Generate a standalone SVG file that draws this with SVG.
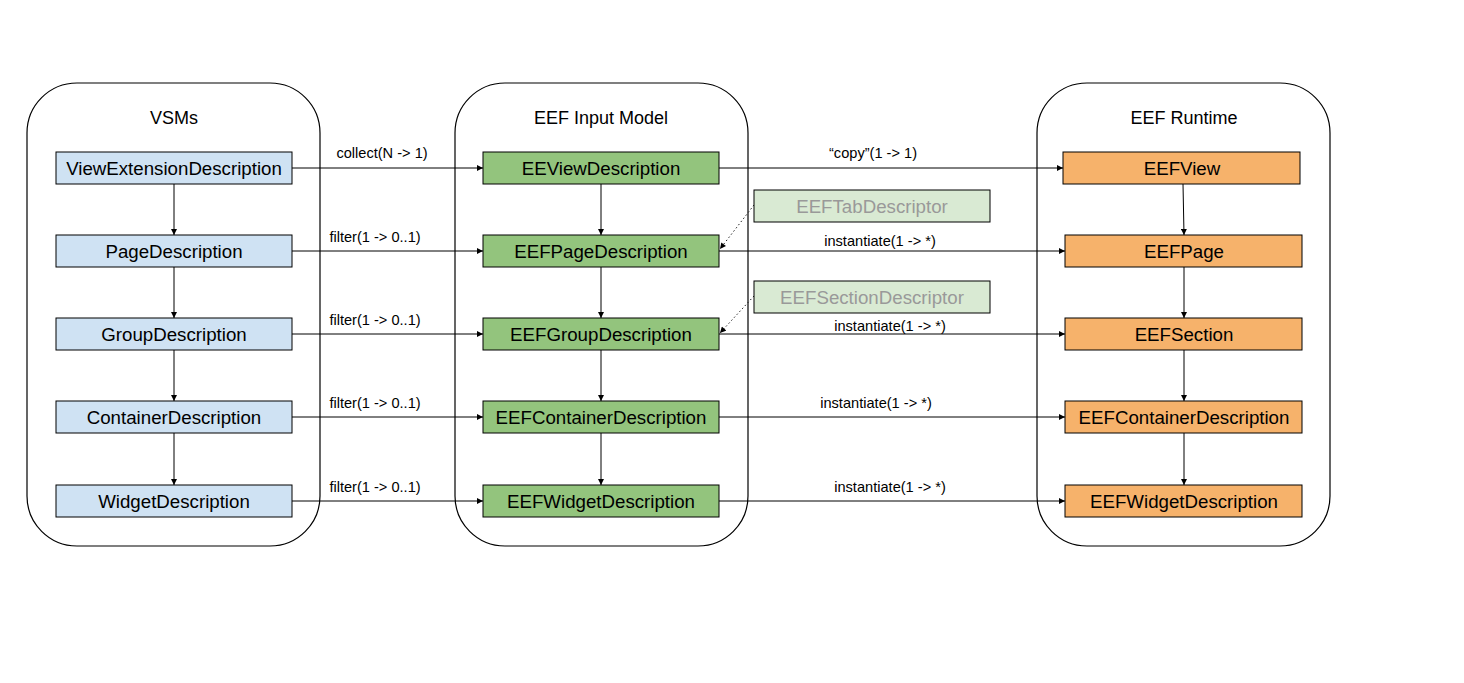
<svg xmlns="http://www.w3.org/2000/svg" width="1464" height="683" viewBox="0 0 1464 683">
<style>
.cont{fill:none;stroke:#000;stroke-width:1.2}
.title{font-family:"Liberation Sans",Arial,sans-serif;font-size:18px;fill:#000;text-anchor:middle}
.node rect{stroke:#000;stroke-width:1}
.node text{font-family:"Liberation Sans",Arial,sans-serif;font-size:18.7px;fill:#000;text-anchor:middle}
.blue rect{fill:#cfe2f3}
.green rect{fill:#93c47d}
.orange rect{fill:#f6b26b}
.desc rect{fill:#d9ead3;stroke:#000}
.desc text{fill:#999999}
.edge{stroke:#000;stroke-width:1;fill:none;marker-end:url(#ah)}
.dot{stroke:#222;stroke-width:1;fill:none;stroke-dasharray:1.5 2.5;marker-end:url(#ah)}
.lbl{font-family:"Liberation Sans",Arial,sans-serif;font-size:14.6px;fill:#000;text-anchor:middle}
</style>
<defs>
<marker id="ah" viewBox="0 0 10 10" refX="10" refY="5" markerWidth="7" markerHeight="6" markerUnits="userSpaceOnUse" orient="auto">
<path d="M0,0 L10,5 L0,10 z" fill="#000"/>
</marker>
</defs>
<rect width="1464" height="683" fill="#fff"/>
<g id="containers">
<g id="vsms"><rect class="cont" x="27" y="83" width="293" height="463" rx="50" ry="50"/><text class="title" x="174" y="124">VSMs</text></g>
<g id="input"><rect class="cont" x="455" y="83" width="293" height="463" rx="50" ry="50"/><text class="title" x="601" y="124">EEF Input Model</text></g>
<g id="runtime"><rect class="cont" x="1037" y="83" width="293" height="463" rx="50" ry="50"/><text class="title" x="1184" y="124">EEF Runtime</text></g>
</g>
<g id="connectors">
<line class="edge" x1="174" y1="184" x2="174" y2="235"/>
<line class="edge" x1="174" y1="267" x2="174" y2="318"/>
<line class="edge" x1="174" y1="350" x2="174" y2="401"/>
<line class="edge" x1="174" y1="433" x2="174" y2="485"/>
<line class="edge" x1="601" y1="184" x2="601" y2="235"/>
<line class="edge" x1="601" y1="267" x2="601" y2="318"/>
<line class="edge" x1="601" y1="350" x2="601" y2="401"/>
<line class="edge" x1="601" y1="433" x2="601" y2="485"/>
<line class="edge" x1="1183" y1="184" x2="1184" y2="235"/>
<line class="edge" x1="1184" y1="267" x2="1184" y2="318"/>
<line class="edge" x1="1184" y1="350" x2="1184" y2="401"/>
<line class="edge" x1="1184" y1="433" x2="1184" y2="485"/>
<line class="edge" x1="292" y1="168" x2="483" y2="168"/>
<line class="edge" x1="292" y1="251" x2="483" y2="251"/>
<line class="edge" x1="292" y1="334" x2="483" y2="334"/>
<line class="edge" x1="292" y1="417" x2="483" y2="417"/>
<line class="edge" x1="292" y1="501" x2="483" y2="501"/>
<line class="edge" x1="719" y1="168" x2="1063" y2="168"/>
<line class="edge" x1="719" y1="251" x2="1065" y2="251"/>
<line class="edge" x1="719" y1="334" x2="1065" y2="334"/>
<line class="edge" x1="719" y1="417" x2="1065" y2="417"/>
<line class="edge" x1="719" y1="501" x2="1065" y2="501"/>
<line class="dot" x1="754" y1="205" x2="720" y2="249"/>
<line class="dot" x1="754" y1="296" x2="720" y2="333"/>
<text class="lbl" x="382" y="158">collect(N -&gt; 1)</text>
<text class="lbl" x="375" y="242">filter(1 -&gt; 0..1)</text>
<text class="lbl" x="375" y="325">filter(1 -&gt; 0..1)</text>
<text class="lbl" x="375" y="408">filter(1 -&gt; 0..1)</text>
<text class="lbl" x="375" y="492">filter(1 -&gt; 0..1)</text>
<text class="lbl" x="873" y="158">“copy”(1 -&gt; 1)</text>
<text class="lbl" x="880" y="246">instantiate(1 -&gt; *)</text>
<text class="lbl" x="890" y="331">instantiate(1 -&gt; *)</text>
<text class="lbl" x="876" y="408">instantiate(1 -&gt; *)</text>
<text class="lbl" x="890" y="492">instantiate(1 -&gt; *)</text>
</g>
<g id="n_vext" class="node blue"><rect x="56" y="152" width="236" height="32"/><text x="174" y="175">ViewExtensionDescription</text></g>
<g id="n_page" class="node blue"><rect x="56" y="235" width="236" height="32"/><text x="174" y="258">PageDescription</text></g>
<g id="n_group" class="node blue"><rect x="56" y="318" width="236" height="32"/><text x="174" y="341">GroupDescription</text></g>
<g id="n_cont" class="node blue"><rect x="56" y="401" width="236" height="32"/><text x="174" y="424">ContainerDescription</text></g>
<g id="n_widget" class="node blue"><rect x="56" y="485" width="236" height="32"/><text x="174" y="508">WidgetDescription</text></g>
<g id="g_view" class="node green"><rect x="483" y="152" width="236" height="32"/><text x="601" y="175">EEViewDescription</text></g>
<g id="g_page" class="node green"><rect x="483" y="235" width="236" height="32"/><text x="601" y="258">EEFPageDescription</text></g>
<g id="g_group" class="node green"><rect x="483" y="318" width="236" height="32"/><text x="601" y="341">EEFGroupDescription</text></g>
<g id="g_cont" class="node green"><rect x="483" y="401" width="236" height="32"/><text x="601" y="424">EEFContainerDescription</text></g>
<g id="g_widget" class="node green"><rect x="483" y="485" width="236" height="32"/><text x="601" y="508">EEFWidgetDescription</text></g>
<g id="d_tab" class="node desc"><rect x="754" y="190" width="236" height="32"/><text x="872" y="213">EEFTabDescriptor</text></g>
<g id="d_section" class="node desc"><rect x="754" y="281" width="236" height="32"/><text x="872" y="304">EEFSectionDescriptor</text></g>
<g id="o_view" class="node orange"><rect x="1063" y="152" width="237" height="32"/><text x="1182" y="175">EEFView</text></g>
<g id="o_page" class="node orange"><rect x="1065" y="235" width="237" height="32"/><text x="1184" y="258">EEFPage</text></g>
<g id="o_section" class="node orange"><rect x="1065" y="318" width="237" height="32"/><text x="1184" y="341">EEFSection</text></g>
<g id="o_cont" class="node orange"><rect x="1065" y="401" width="237" height="32"/><text x="1184" y="424">EEFContainerDescription</text></g>
<g id="o_widget" class="node orange"><rect x="1065" y="485" width="237" height="32"/><text x="1184" y="508">EEFWidgetDescription</text></g>
</svg>
